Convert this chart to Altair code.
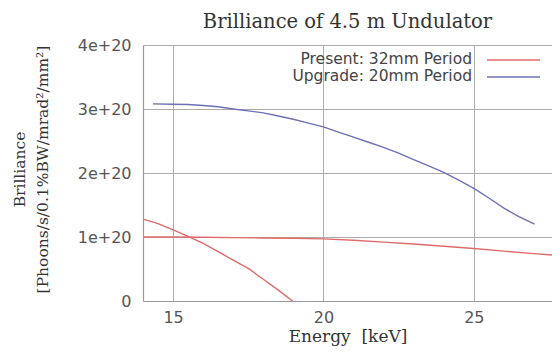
import altair as alt
import pandas as pd

# ---- data ----
present_h1_energy = [14.0, 14.5, 15.0, 15.5, 16.0, 16.5, 17.0, 17.5, 18.0, 18.5, 18.97]
present_h1_value = [1.28, 1.21, 1.11, 1.01, 0.90, 0.77, 0.64, 0.51, 0.34, 0.17, 0.0]

present_h2_energy = [14.0, 15.0, 16.0, 17.0, 18.0, 19.0, 20.0, 21.0, 22.0, 23.0, 24.0, 25.0, 26.0, 27.0, 28.0]
present_h2_value = [1.0, 1.0, 0.995, 0.99, 0.985, 0.98, 0.97, 0.95, 0.92, 0.89, 0.855, 0.82, 0.78, 0.74, 0.705]

upgrade_energy = [14.33, 15.0, 15.5, 16.0, 16.5, 17.0, 17.5, 18.0, 18.5, 19.0, 19.5, 20.0, 20.5,
                  21.0, 21.5, 22.0, 22.5, 23.0, 23.5, 24.0, 24.5, 25.0, 25.5, 26.0, 26.5, 27.02]
upgrade_value = [3.08, 3.075, 3.07, 3.055, 3.035, 3.0, 2.97, 2.94, 2.89, 2.84, 2.78, 2.72, 2.64,
                 2.56, 2.48, 2.40, 2.31, 2.21, 2.11, 2.01, 1.89, 1.76, 1.61, 1.45, 1.32, 1.20]

legend_labels = ["Present: 32mm Period", "Upgrade: 20mm Period"]
series_colors = ["#e06a6a", "#6e70b6"]
x_ticks = [15, 20, 25]
y_ticks = [0, 1e20, 2e20, 3e20, 4e20]

rows = []
for e, v in zip(present_h1_energy, present_h1_value):
    rows.append({"energy": e, "brilliance": v * 1e20, "curve": "p1", "series": legend_labels[0]})
for e, v in zip(present_h2_energy, present_h2_value):
    rows.append({"energy": e, "brilliance": v * 1e20, "curve": "p2", "series": legend_labels[0]})
for e, v in zip(upgrade_energy, upgrade_value):
    rows.append({"energy": e, "brilliance": v * 1e20, "curve": "u", "series": legend_labels[1]})
df = pd.DataFrame(rows)

serif = "DejaVu Serif"
sans = "DejaVu Sans"
frame = "#999999"
grid = "#acacac"

x_enc = alt.X("energy:Q",
              scale=alt.Scale(domain=[14, 27.6], nice=False, zero=False),
              axis=alt.Axis(values=x_ticks, title="Energy\u00a0\u00a0[keV]", titleFont=serif,
                            titleFontSize=17, titleFontWeight="normal", titleColor="#333",
                            titlePadding=3, labelFont=sans, labelFontSize=16,
                            labelColor="#555", labelPadding=8, tickSize=0,
                            domain=True, domainColor=frame, domainWidth=1.2,
                            grid=True, gridColor=grid, gridWidth=1))
y_enc = alt.Y("brilliance:Q",
              scale=alt.Scale(domain=[0, 4e20], nice=False),
              axis=alt.Axis(values=y_ticks,
                            labelExpr="datum.value == 0 ? '0' : format(datum.value/1e20, 'd') + 'e+20'",
                            title=["Brilliance", "[Phoons/s/0.1%BW/mrad²/mm²]"],
                            titleFont=serif, titleFontSize=15.5, titleFontWeight="normal",
                            titleColor="#333", titleLineHeight=23,
                            titleAngle=-90, titleX=-131, titleY=124, titleAlign="center",
                            titleBaseline="top",
                            labelFont=sans, labelFontSize=16, labelColor="#555",
                            labelPadding=12, tickSize=0,
                            domain=True, domainColor=frame, domainWidth=1.2,
                            grid=True, gridColor=grid, gridWidth=1))

lines = alt.Chart(df).mark_line(strokeWidth=1.4, clip=True).encode(
    x=x_enc, y=y_enc,
    color=alt.Color("series:N", scale=alt.Scale(domain=legend_labels, range=series_colors), legend=None),
    detail="curve:N",
)

layers = [lines]
legend_df = pd.DataFrame({"label": legend_labels, "color": series_colors})
for i, (lab, col) in enumerate(zip(legend_labels, series_colors)):
    sub = legend_df.iloc[[i]]
    yy = 14 + i * 17
    layers.append(alt.Chart(sub).mark_text(align="right", baseline="middle", font=sans,
                                           fontSize=15.5, color="#444").encode(
        x=alt.value(329), y=alt.value(yy), text="label:N"))
    layers.append(alt.Chart(sub).mark_rule(color=col, strokeWidth=1.4).encode(
        x=alt.value(344), x2=alt.value(397), y=alt.value(yy + 1)))

chart = alt.layer(*layers).properties(
    width=409, height=256,
    title=alt.TitleParams("Brilliance of 4.5 m Undulator", font=serif, fontSize=19.5,
                          fontWeight="normal", color="#333", anchor="middle", offset=5),
    autosize=alt.AutoSizeParams(type="none"),
    padding={"left": 135, "top": 37, "right": 0, "bottom": 45},
).configure_view(stroke=None)

chart.save("out.html", embed_options={"renderer": "svg", "actions": False})
